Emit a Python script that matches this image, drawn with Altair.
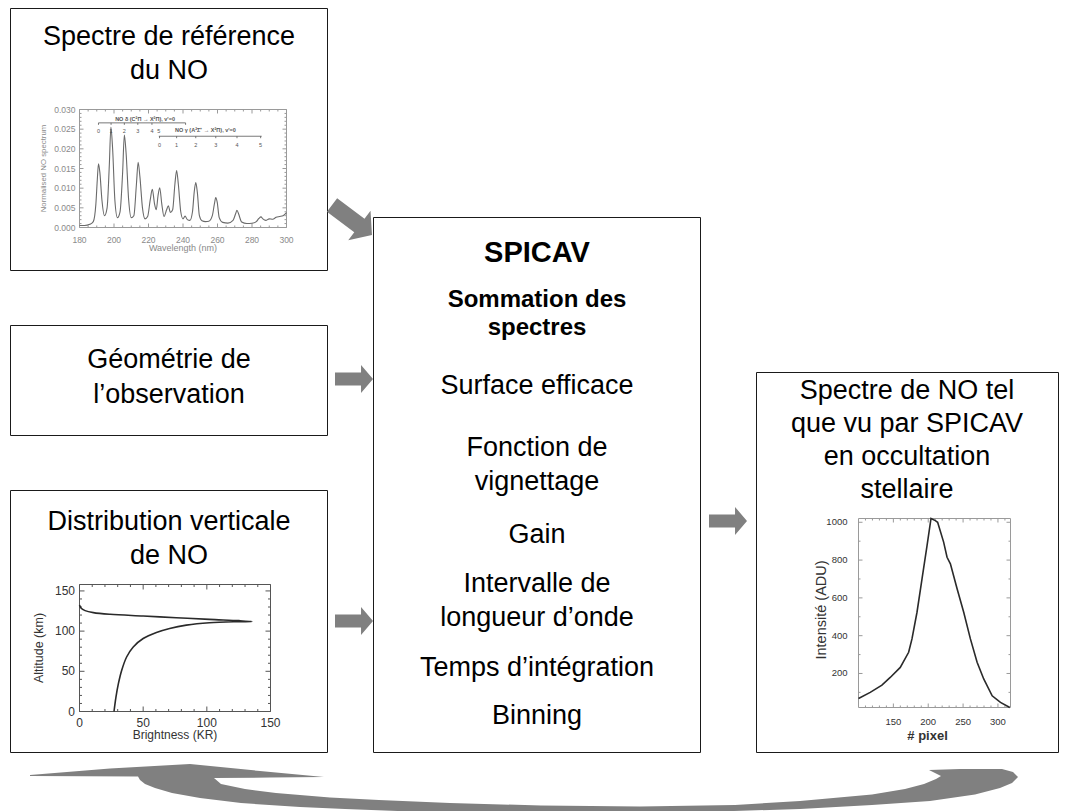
import altair as alt
import pandas as pd

# ===================== data =====================
# top-left panel : reference NO spectrum
spec_wavelength = [180, 183, 186, 188, 189.5, 190.3, 191, 191.8, 193, 194.5,
                   196, 197.3, 198.2, 199.2, 200.5, 202, 203.5, 205, 206, 207,
                   208.5, 210, 211.5, 213, 214, 215, 216.5, 218, 219.5, 221,
                   222.2, 223.5, 224.5, 225.5, 226.5, 227.7, 229, 230.5, 231.5, 232.7,
                   234, 235.3, 236.3, 237.3, 238.7, 240, 241.2, 242.5, 244, 245.5,
                   246.5, 247.4, 248.3, 249.5, 251, 253, 255, 257, 258.2, 259,
                   259.8, 261, 263, 266, 269, 270.5, 271.3, 272.2, 274, 277,
                   280, 282.5, 284, 285.2, 286.3, 288, 290, 292, 294, 296,
                   298, 300]
spec_value = [0.0005, 0.0005, 0.0008, 0.0015, 0.0060, 0.0120, 0.0162, 0.0140, 0.0070, 0.0030,
              0.0050, 0.0160, 0.0255, 0.0200, 0.0070, 0.0025, 0.0040, 0.0140, 0.0235, 0.0190,
              0.0070, 0.0025, 0.0030, 0.0110, 0.0166, 0.0130, 0.0050, 0.0022, 0.0028, 0.0070,
              0.0097, 0.0060, 0.0045, 0.0080, 0.0101, 0.0060, 0.0028, 0.0045, 0.0055, 0.0038,
              0.0045, 0.0110, 0.0145, 0.0110, 0.0040, 0.0022, 0.0029, 0.0020, 0.0018, 0.0040,
              0.0090, 0.0114, 0.0090, 0.0030, 0.0017, 0.0015, 0.0016, 0.0030, 0.0060, 0.0076,
              0.0065, 0.0025, 0.0013, 0.0011, 0.0018, 0.0035, 0.0044, 0.0035, 0.0014, 0.0010,
              0.0011, 0.0015, 0.0023, 0.0027, 0.0022, 0.0018, 0.0022, 0.0021, 0.0026, 0.0028,
              0.0030, 0.0038]
spec_x_ticks = [180, 200, 220, 240, 260, 280, 300]
spec_x_labels = ["180", "200", "220", "240", "260", "280", "300"]
spec_y_ticks = [0.000, 0.005, 0.010, 0.015, 0.020, 0.025, 0.030]
spec_y_labels = ["0.000", "0.005", "0.010", "0.015", "0.020", "0.025", "0.030"]
spec_titles = ["Wavelength (nm)", "Normalised NO spectrum"]
delta_numbers = ["0", "1", "2", "3", "4", "5"]
delta_wavelength = [191, 198.3, 206, 213.8, 222, 226]
gamma_numbers = ["0", "1", "2", "3", "4", "5"]
gamma_wavelength = [226.4, 236.3, 247.4, 259, 271.3, 285]
band_titles = ["NO δ (C²Π → X²Π), v'=0", "NO γ (A²Σ⁺ → X²Π), v'=0"]

# bottom-left panel : vertical distribution of the NO emission
prof_brightness = [27.1, 28.6, 30.5, 33.1, 37.0, 42.2, 50.0, 60.4, 70.8, 83.9, 102.0, 123.0,
                   135.4, 125.5, 102.0, 76.0, 50.0, 24.0, 10.9, 4.4, 1.3, 0.0]
prof_altitude = [0.0, 17.6, 34.3, 51.0, 67.8, 80.3, 90.8, 98.3, 103.3, 107.5, 110.5, 111.7,
                 111.9, 113.0, 114.6, 116.7, 118.8, 120.9, 123.0, 125.5, 128.5, 132.6]
prof_x_ticks = [0, 50, 100, 150]
prof_x_labels = ["0", "50", "100", "150"]
prof_y_ticks = [0, 50, 100, 150]
prof_y_labels = ["0", "50", "100", "150"]
prof_titles = ["Brightness (KR)", "Altitude (km)"]

# right panel : NO spectrum as seen by SPICAV
int_pixel = [100, 116.8, 133.6, 145.5, 159.9, 171.9, 176.7, 183.9, 191.1, 198.3, 204.0, 210.2,
             213.5, 222.1, 227.0, 231.8, 241.4, 250.9, 260.5, 270.1, 279.6, 291.7, 303.6, 317.0]
int_value = [68, 100, 138, 179, 232, 312, 383, 524, 700, 877, 1020, 1009,
             1000, 895, 815, 780, 648, 524, 383, 259, 171, 82, 47, 20]
int_x_ticks = [150, 200, 250, 300]
int_x_labels = ["150", "200", "250", "300"]
int_y_ticks = [200, 400, 600, 800, 1000]
int_y_labels = ["200", "400", "600", "800", "1000"]
int_titles = ["# pixel", "Intensité (ADU)"]

# texts of the diagram
box1_text = ["Spectre de référence", "du NO"]
box2_text = ["Géométrie de", "l’observation"]
box3_text = ["Distribution verticale", "de NO"]
center_title = ["SPICAV"]
center_sub = ["Sommation des", "spectres"]
center_text = ["Surface efficace", "Fonction de", "vignettage", "Gain", "Intervalle de",
               "longueur d’onde", "Temps d’intégration", "Binning"]
right_text = ["Spectre de NO tel", "que vu par SPICAV", "en occultation", "stellaire"]

# ===================== layout (pixels of the picture) =====================
W, H, M = 1051, 803, 8
FONT = "Liberation Sans"
GRAY = "#808080"
FS = 27

boxes_px = [(10.5, 8.5, 327.5, 270.5), (10.5, 325.5, 327.5, 435.5), (10.5, 490.5, 327.5, 752.5),
            (373.5, 217.5, 700.5, 752.5), (756.5, 372.5, 1058.5, 752.5)]
box1_base = [45, 79]
box2_base = [368, 403]
box3_base = [530, 564]
center_title_base = [262]
center_sub_base = [307, 335]
center_text_base = [394, 456, 490, 543, 592, 626, 676, 724]
right_base = [399, 432, 465, 498]
LEFT_CX, CENTER_CX, RIGHT_CX = 169, 537, 907

# block arrows : centre, length, angle
arrows_px = [(352, 220, 50, 37), (354, 379, 38, 0), (354, 621, 38, 0), (728, 521, 38, 0)]
ARROW_PATH = "M-1,-0.34 L0.37,-0.34 L0.37,-0.74 L1,0 L0.37,0.74 L0.37,0.34 L-1,0.34 Z"

# outline of the large curved return arrow
big_arrow_outline = [
    (30, 775), (110, 768.5), (190, 764), (260, 771), (324, 777), (270, 777.5), (214, 778),
    (221, 784), (245, 789), (276, 793), (330, 797.5), (379, 800), (450, 803), (541, 805.5),
    (640, 806.5), (735, 805), (800, 801), (872, 794.5), (905, 789), (924, 784), (936, 779),
    (941, 776), (929, 770), (960, 769), (1002, 769), (1013, 772), (1018, 777), (1012, 783),
    (1000, 788), (975, 794.5), (930, 801), (872, 805), (800, 809), (701, 812), (600, 814),
    (541, 814), (450, 813), (345, 809), (300, 807), (241, 803), (200, 798), (172, 793),
    (155, 788), (145, 784), (140, 780), (138, 776.5), (30, 776)]
BIG_PATH = "M" + " L".join(f"{x - M:.1f},{y - M:.1f}" for x, y in big_arrow_outline) + " Z"

SPEC_FRAME = (79.5, 109.5, 286.5, 227.5)
PROF_FRAME = (79.5, 584.5, 270.5, 711.5)
INT_FRAME = (858.5, 518.5, 1010.5, 707.5)
SPEC_XDOM, SPEC_YDOM = [180, 300], [0, 0.030]
PROF_XDOM, PROF_YDOM = [0, 150], [0, 158]
INT_XDOM, INT_YDOM = [100, 318], [20, 1020]

# ===================== helpers =====================
X = alt.Scale(domain=[M, M + W], range=[0, W], nice=False, zero=False)
Y = alt.Scale(domain=[M, M + H], range=[0, H], nice=False, zero=False)


def pxy():
    return dict(x=alt.X("x:Q", scale=X, axis=None), y=alt.Y("y:Q", scale=Y, axis=None))


def text_layer(lines, bases, cx, size, bold=False):
    df = pd.DataFrame({"t": lines, "x": [cx] * len(lines), "y": bases, "fs": [size] * len(lines)})
    return alt.Chart(df).mark_text(font=FONT, align="center", baseline="alphabetic", color="#000",
                                   fontWeight="bold" if bold else "normal").encode(
        text="t:N", size=alt.Size("fs:Q", scale=None), **pxy())


def panel_scales(frame, xdom, ydom):
    x0, y0, x1, y1 = frame
    xs = alt.Scale(domain=xdom, range=[x0 - M, x1 - M], nice=False, zero=False)
    ys = alt.Scale(domain=ydom, range=[y1 - M, y0 - M], nice=False, zero=False)
    return xs, ys


def units(frame, xdom, ydom):
    x0, y0, x1, y1 = frame
    return (xdom[1] - xdom[0]) / (x1 - x0), (ydom[1] - ydom[0]) / (y1 - y0)


def enc(xs, ys, two=False):
    e = dict(x=alt.X("x:Q", scale=xs, axis=None), y=alt.Y("y:Q", scale=ys, axis=None))
    if two:
        e.update(x2="x2:Q", y2="y2:Q")
    return e


def tick_table(frame, xdom, ydom, xmaj, xmin_, ymaj, ymin_, lmaj=4.0, lmin=2.0):
    ux, uy = units(frame, xdom, ydom)
    rows = []
    for vals, L in ((xmaj, lmaj), (xmin_, lmin)):
        for v in vals:
            rows.append({"x": v, "x2": v, "y": ydom[0], "y2": ydom[0] + L * uy})
            rows.append({"x": v, "x2": v, "y": ydom[1], "y2": ydom[1] - L * uy})
    for vals, L in ((ymaj, lmaj), (ymin_, lmin)):
        for v in vals:
            rows.append({"x": xdom[0], "x2": xdom[0] + L * ux, "y": v, "y2": v})
            rows.append({"x": xdom[1], "x2": xdom[1] - L * ux, "y": v, "y2": v})
    return pd.DataFrame(rows)


def frame_layers(frame, xdom, ydom, xs, ys, ticks, color):
    fdf = pd.DataFrame([{"x": xdom[0], "x2": xdom[1], "y": ydom[0], "y2": ydom[1]}])
    rect = alt.Chart(fdf).mark_rect(fillOpacity=0, stroke=color, strokeWidth=1).encode(**enc(xs, ys, True))
    tk = alt.Chart(ticks).mark_rule(color=color, strokeWidth=1).encode(**enc(xs, ys, True))
    return [rect, tk]


def axis_layers(frame, xdom, ydom, xs, ys, xt, xl, yt, yl, titles, color, lab_fs, xpad, ypad,
                xtitle_fs, xtitle_y, xtitle_x, xtitle_bold, ytitle_fs, ytitle_x, ytitle_y):
    """Tick labels and titles of one small panel, placed through its own scales."""
    ux, uy = units(frame, xdom, ydom)
    xl_df = pd.DataFrame({"t": xl, "x": xt, "y": [ydom[0]] * len(xt)})
    yl_df = pd.DataFrame({"t": yl, "x": [xdom[0]] * len(yt), "y": yt})
    xlab = alt.Chart(xl_df).mark_text(font=FONT, fontSize=lab_fs, color=color, align="center",
                                      baseline="top", dy=xpad).encode(text="t:N", **enc(xs, ys))
    ylab = alt.Chart(yl_df).mark_text(font=FONT, fontSize=lab_fs, color=color, align="right",
                                      baseline="middle", dx=-ypad).encode(text="t:N", **enc(xs, ys))
    xt_df = pd.DataFrame({"t": [titles[0]], "x": [xtitle_x],
                          "y": [ydom[0] - (xtitle_y - frame[3]) * uy]})
    xtit = alt.Chart(xt_df).mark_text(font=FONT, fontSize=xtitle_fs, color=color, align="center",
                                      baseline="top",
                                      fontWeight="bold" if xtitle_bold else "normal").encode(
        text="t:N", **enc(xs, ys))
    yt_df = pd.DataFrame({"t": [titles[1]], "x": [xdom[0] - (frame[0] - ytitle_x) * ux],
                          "y": [ytitle_y]})
    ytit = alt.Chart(yt_df).mark_text(font=FONT, fontSize=ytitle_fs, color=color, align="center",
                                      baseline="middle", angle=270).encode(text="t:N", **enc(xs, ys))
    return [xlab, ylab, xtit, ytit]


# ===================== diagram =====================
boxes_df = pd.DataFrame([{"x": a, "y": b, "x2": c, "y2": d} for a, b, c, d in boxes_px])
boxes = alt.Chart(boxes_df).mark_rect(fill="white", stroke="#1a1a1a", strokeWidth=1).encode(
    x2="x2:Q", y2="y2:Q", **pxy())

arrows_df = pd.DataFrame([{"x": a, "y": b, "s": L * L, "ang": g} for a, b, L, g in arrows_px])
arrows = alt.Chart(arrows_df).mark_point(shape=ARROW_PATH, filled=True, color=GRAY, opacity=1,
                                         strokeWidth=0).encode(
    size=alt.Size("s:Q", scale=None), angle=alt.Angle("ang:Q", scale=None), **pxy())

big_df = pd.DataFrame([{"x": M, "y": M}])
big_arrow = alt.Chart(big_df).mark_point(shape=BIG_PATH, size=4, filled=True, color=GRAY,
                                         opacity=1, strokeWidth=0).encode(**pxy())

diagram = alt.layer(
    boxes, arrows, big_arrow,
    text_layer(box1_text, box1_base, LEFT_CX, FS),
    text_layer(box2_text, box2_base, LEFT_CX, FS),
    text_layer(box3_text, box3_base, LEFT_CX, FS),
    text_layer(center_title, center_title_base, CENTER_CX, 29, bold=True),
    text_layer(center_sub, center_sub_base, CENTER_CX, 24, bold=True),
    text_layer(center_text, center_text_base, CENTER_CX, FS),
    text_layer(right_text, right_base, RIGHT_CX, FS),
)

# ===================== spectrum panel =====================
sx, sy = panel_scales(SPEC_FRAME, SPEC_XDOM, SPEC_YDOM)
SC = "#8a8a8a"
spec_df = pd.DataFrame({"wl": spec_wavelength, "v": spec_value})
spec_line = alt.Chart(spec_df).mark_line(color="#6a6a6a", strokeWidth=1.1, interpolate="monotone").encode(
    x=alt.X("wl:Q", scale=sx, axis=None), y=alt.Y("v:Q", scale=sy, axis=None))
spec_ticks = tick_table(SPEC_FRAME, SPEC_XDOM, SPEC_YDOM, spec_x_ticks,
                        [v for v in range(185, 300, 5) if v % 20 != 0], spec_y_ticks,
                        [k / 1000 for k in range(1, 30) if k % 5 != 0], 4, 2)

br_rows = [{"x": 191, "x2": 241.5, "y": 0.0266, "y2": 0.0266},
           {"x": 226, "x2": 285.6, "y": 0.0232, "y2": 0.0232}]
for w in delta_wavelength[:5] + [241.5]:
    br_rows.append({"x": w, "x2": w, "y": 0.0266, "y2": 0.0261})
for w in gamma_wavelength:
    br_rows.append({"x": w, "x2": w, "y": 0.0232, "y2": 0.0227})
brackets = alt.Chart(pd.DataFrame(br_rows)).mark_rule(color="#555", strokeWidth=0.8).encode(
    **enc(sx, sy, True))
num_df = pd.DataFrame({"t": delta_numbers + gamma_numbers,
                       "x": delta_wavelength + gamma_wavelength,
                       "y": [0.0245] * 6 + [0.0210] * 6})
numbers = alt.Chart(num_df).mark_text(font=FONT, fontSize=5.5, color="#555").encode(
    text="t:N", **enc(sx, sy))
bt_df = pd.DataFrame({"t": band_titles, "x": [218, 253], "y": [0.0276, 0.0249]})
band_text = alt.Chart(bt_df).mark_text(font=FONT, fontSize=5.5, color="#555", fontWeight="bold").encode(
    text="t:N", **enc(sx, sy))

spec_panel = alt.layer(
    *frame_layers(SPEC_FRAME, SPEC_XDOM, SPEC_YDOM, sx, sy, spec_ticks, "#9a9a9a"),
    spec_line, brackets, numbers, band_text,
    *axis_layers(SPEC_FRAME, SPEC_XDOM, SPEC_YDOM, sx, sy, spec_x_ticks, spec_x_labels,
                 spec_y_ticks, spec_y_labels, spec_titles, SC, 8.5, 8, 4,
                 9, 244, 240, False, 7.8, 44, 0.015))

# ===================== altitude panel =====================
ax_, ay_ = panel_scales(PROF_FRAME, PROF_XDOM, PROF_YDOM)
PC = "#333333"
prof_df = pd.DataFrame({"b": prof_brightness, "a": prof_altitude, "i": range(len(prof_altitude))})
prof_line = alt.Chart(prof_df).mark_line(color="#2a2a2a", strokeWidth=1.6, interpolate="catmull-rom").encode(
    x=alt.X("b:Q", scale=ax_, axis=None), y=alt.Y("a:Q", scale=ay_, axis=None), order="i:Q")
prof_ticks = tick_table(PROF_FRAME, PROF_XDOM, PROF_YDOM, prof_x_ticks,
                        [v for v in range(10, 150, 10) if v % 50 != 0], prof_y_ticks,
                        [v for v in range(10, 158, 10) if v % 50 != 0], 5, 2.5)
prof_panel = alt.layer(
    *frame_layers(PROF_FRAME, PROF_XDOM, PROF_YDOM, ax_, ay_, prof_ticks, "#555"), prof_line,
    *axis_layers(PROF_FRAME, PROF_XDOM, PROF_YDOM, ax_, ay_, prof_x_ticks, prof_x_labels,
                 prof_y_ticks, prof_y_labels, prof_titles, PC, 12, 6, 4.5,
                 12, 730, 75, False, 12.5, 39, 79))

# ===================== intensity panel =====================
ix, iy = panel_scales(INT_FRAME, INT_XDOM, INT_YDOM)
int_df = pd.DataFrame({"p": int_pixel, "v": int_value})
int_line = alt.Chart(int_df).mark_line(color="#2a2a2a", strokeWidth=1.6).encode(
    x=alt.X("p:Q", scale=ix, axis=None), y=alt.Y("v:Q", scale=iy, axis=None))
int_ticks = tick_table(INT_FRAME, INT_XDOM, INT_YDOM, int_x_ticks,
                       [v for v in range(110, 318, 10) if v % 50 != 0], int_y_ticks,
                       [v for v in range(100, 1020, 100) if v % 200 != 0], 4, 2)
int_panel = alt.layer(
    *frame_layers(INT_FRAME, INT_XDOM, INT_YDOM, ix, iy, int_ticks, "#9a9a9a"), int_line,
    *axis_layers(INT_FRAME, INT_XDOM, INT_YDOM, ix, iy, int_x_ticks, int_x_labels,
                 int_y_ticks, int_y_labels, int_titles, PC, 9.5, 9, 11,
                 13, 730, 199, True, 14.5, 822, 536))

# ===================== assemble =====================
chart = alt.layer(diagram, spec_panel, prof_panel, int_panel).resolve_scale(
    x="independent", y="independent"
).properties(
    width=W, height=H, padding=0, background="white",
    autosize=alt.AutoSizeParams(type="none")
).configure_view(stroke=None)

chart.save("out.html", embed_options={"renderer": "svg", "actions": False})
